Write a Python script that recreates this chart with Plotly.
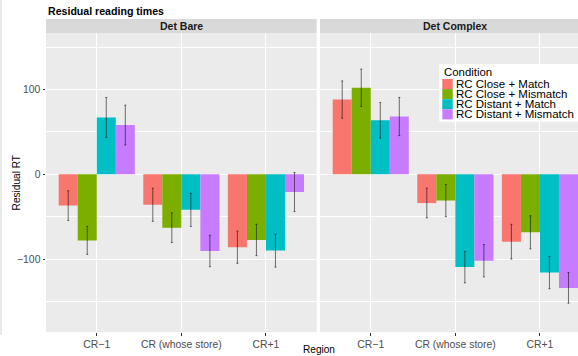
import plotly.graph_objects as go

# ---------------- data ----------------
regions = ["CR\u22121", "CR (whose store)", "CR+1"]
conditions = ["RC Close + Match", "RC Close + Mismatch", "RC Distant + Match", "RC Distant + Mismatch"]
colors = ["#F8766D", "#7CAE00", "#00BFC4", "#C77CFF"]
panels = ["Det Bare", "Det Complex"]

# mean residual RT (ms), one list per condition, ordered by region
bare_close_match = [-37, -36, -86]
bare_close_mismatch = [-78, -63, -77.5]
bare_distant_match = [67, -42, -90]
bare_distant_mismatch = [58, -90.5, -21]

complex_close_match = [88, -34, -79.5]
complex_close_mismatch = [102, -31, -68.5]
complex_distant_match = [63.5, -109.5, -116]
complex_distant_mismatch = [68, -102, -134]

# standard errors
bare_close_match_se = [17.5, 19.5, 19]
bare_close_mismatch_se = [16.5, 17.5, 18.5]
bare_distant_match_se = [23.5, 19.5, 19.5]
bare_distant_mismatch_se = [23.5, 18.5, 23]

complex_close_match_se = [22, 17.5, 20.5]
complex_close_mismatch_se = [22, 19, 19.5]
complex_distant_match_se = [21, 18.5, 19]
complex_distant_mismatch_se = [22.5, 19, 18]

y_ticks = [-100, 0, 100]

bare_means = [bare_close_match, bare_close_mismatch, bare_distant_match, bare_distant_mismatch]
bare_ses = [bare_close_match_se, bare_close_mismatch_se, bare_distant_match_se, bare_distant_mismatch_se]
complex_means = [complex_close_match, complex_close_mismatch, complex_distant_match, complex_distant_mismatch]
complex_ses = [complex_close_match_se, complex_close_mismatch_se, complex_distant_match_se, complex_distant_mismatch_se]

# ---------------- layout geometry ----------------
W, H = 578, 356
ML, MR, MT, MB = 46, 0, 19, 24
PW = W - ML - MR
PH = H - MT - MB


def px_x(p):
    return (p - ML) / PW


def px_y(p):
    return (H - MB - p) / PH


left_dom = [0, px_x(316.7)]
right_dom = [px_x(320), 1]
panel_top = px_y(33)

fig = go.Figure()

font_family = "Liberation Sans, Arial, sans-serif"

for means, ses, xa, ya in [(bare_means, bare_ses, "x", "y"), (complex_means, complex_ses, "x2", "y2")]:
    for cond, col, m, s in zip(conditions, colors, means, ses):
        fig.add_trace(go.Bar(
            x=regions, y=m, name=cond, marker=dict(color=col, line=dict(width=0)),
            error_y=dict(type="data", array=s, visible=True, color="rgba(0,0,0,0.55)",
                         thickness=1, width=1),
            xaxis=xa, yaxis=ya, showlegend=False,
        ))

axis_common = dict(
    showgrid=True, gridcolor="white", gridwidth=1.1, zeroline=False,
    ticks="outside", ticklen=2.5, tickcolor="#333333", tickwidth=1,
    tickfont=dict(family=font_family, size=10.4, color="#4D4D4D"),
    showline=False,
)

yr = [-186, 166.5]

fig.update_layout(
    width=W, height=H,
    margin=dict(l=ML, r=MR, t=MT, b=MB, autoexpand=False),
    paper_bgcolor="white", plot_bgcolor="#EBEBEB",
    barmode="group", bargap=0.1, bargroupgap=0,
    font=dict(family=font_family),
    xaxis=dict(domain=left_dom, anchor="y", type="category", range=[-0.6, 2.6], **axis_common),
    xaxis2=dict(domain=right_dom, anchor="y2", type="category", range=[-0.6, 2.45], **axis_common),
    yaxis=dict(domain=[0, panel_top], anchor="x", range=yr, tickvals=y_ticks,
               minor=dict(dtick=50, tick0=0, showgrid=True, gridcolor="white", gridwidth=0.55, ticks=""),
               **axis_common),
    yaxis2=dict(domain=[0, panel_top], anchor="x2", range=yr, tickvals=y_ticks, matches="y",
                minor=dict(dtick=50, tick0=0, showgrid=True, gridcolor="white", gridwidth=0.55, ticks=""),
                **{**axis_common, "ticks": "", "showticklabels": False}),
)

shapes = []
annotations = []

# strips
for dom, label, cx in [(left_dom, panels[0], (left_dom[0] + left_dom[1]) / 2),
                       (right_dom, panels[1], px_x(320 + 270.7 / 2))]:
    shapes.append(dict(type="rect", xref="paper", yref="paper", x0=dom[0], x1=dom[1],
                       y0=panel_top, y1=1, fillcolor="#D9D9D9", line=dict(width=0), layer="below"))
    annotations.append(dict(text="<b>%s</b>" % label, xref="paper", yref="paper", x=cx, y=px_y(26),
                            xanchor="center", yanchor="middle", showarrow=False,
                            font=dict(size=10.5, color="#1A1A1A", family=font_family)))

# title
annotations.append(dict(text="<b>Residual reading times</b>", xref="paper", yref="paper",
                        x=px_x(45.5), y=px_y(10.7), xanchor="left", yanchor="middle", showarrow=False,
                        font=dict(size=10.6, color="black", family=font_family)))
# axis titles
annotations.append(dict(text="Region", xref="paper", yref="paper", x=px_x(319), y=px_y(349.5),
                        xanchor="center", yanchor="middle", showarrow=False,
                        font=dict(size=10.1, color="black", family=font_family)))
annotations.append(dict(text="Residual RT", xref="paper", yref="paper", x=px_x(16), y=px_y(183.4),
                        xanchor="center", yanchor="middle", showarrow=False, textangle=-90,
                        font=dict(size=10.1, color="black", family=font_family)))

# manual legend
shapes.append(dict(type="rect", xref="paper", yref="paper", x0=px_x(439.3), x1=px_x(600),
                   y0=px_y(121.7), y1=px_y(64), fillcolor="white", line=dict(width=0)))
annotations.append(dict(text="Condition", xref="paper", yref="paper", x=px_x(441.8), y=px_y(71.7),
                        xanchor="left", yanchor="middle", showarrow=False,
                        font=dict(size=11.4, color="black", family=font_family)))
key_top = 79.0
key_h = 10.1
for i, (cond, col) in enumerate(zip(conditions, colors)):
    t = key_top + i * key_h
    shapes.append(dict(type="rect", xref="paper", yref="paper", x0=px_x(442.3), x1=px_x(452.7),
                       y0=px_y(t + key_h), y1=px_y(t), fillcolor=col, line=dict(width=0)))
    annotations.append(dict(text=cond, xref="paper", yref="paper", x=px_x(453.8), y=px_y(t + key_h / 2),
                            xanchor="left", yanchor="middle", showarrow=False,
                            font=dict(size=11.5, color="black", family=font_family)))

# faint vertical line at the left edge (part of the original image)
shapes.append(dict(type="line", xref="paper", yref="paper", x0=px_x(1), x1=px_x(1),
                   y0=px_y(0), y1=px_y(335), line=dict(color="#D5D5D5", width=1)))

fig.update_layout(shapes=shapes, annotations=annotations)

fig.write_html("out.html", config={"displayModeBar": False},
               post_script="document.body.style.margin='0';document.body.style.padding='0';")
